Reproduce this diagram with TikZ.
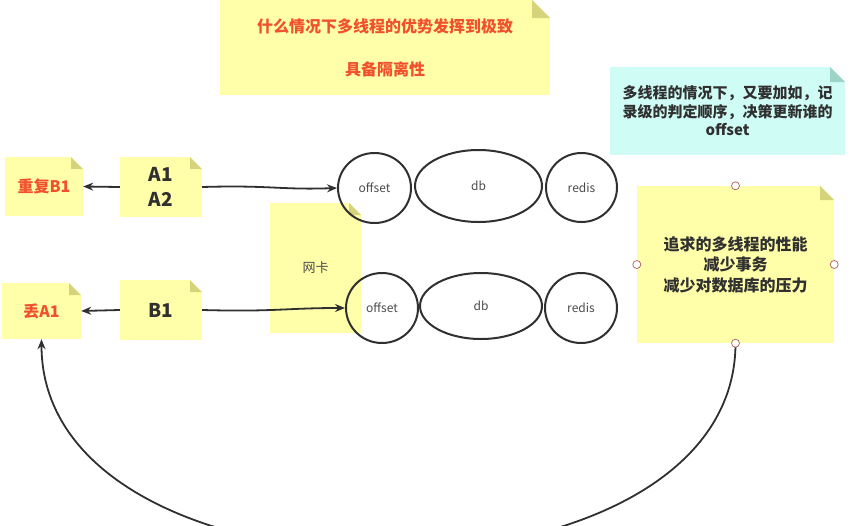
\documentclass[tikz,border=0pt]{standalone}
\usepackage{fontspec}
\setmainfont{Noto Sans CJK SC}
\usetikzlibrary{shapes.geometric, arrows.meta, positioning}

\definecolor{noteyellow}{RGB}{255,255,170}
\definecolor{notefold}{RGB}{214,212,122}
\definecolor{notecyan}{RGB}{208,252,246}
\definecolor{cyanfold}{RGB}{158,212,200}
\definecolor{alertred}{RGB}{240,80,46}
\definecolor{inktext}{RGB}{48,48,48}
\definecolor{softtext}{RGB}{75,75,75}
\definecolor{handlered}{RGB}{170,95,95}

\begin{document}
\begin{tikzpicture}[x=1pt, y=-1pt,
  note/.style n args={3}{rectangle, fill=#1, inner sep=0pt, align=center,
    path picture={
      \fill[white] ([xshift=-#3]path picture bounding box.north east) -- (path picture bounding box.north east) -- ([yshift=-#3]path picture bounding box.north east) -- cycle;
      \fill[#2] ([xshift=-#3]path picture bounding box.north east) -- ([xshift=-#3, yshift=-#3]path picture bounding box.north east) -- ([yshift=-#3]path picture bounding box.north east) -- cycle;}},
  sticky/.style={note={noteyellow}{notefold}{#1}},
  store/.style={ellipse, draw=inktext, line width=2pt, inner sep=0pt, font=\fontsize{12}{14}\selectfont, text=softtext},
  handle/.style={circle, draw=handlered, fill=white, line width=0.7pt, inner sep=0pt, minimum size=8pt},
  line/.style={draw=inktext, line width=1.8pt, -{Stealth[length=10pt, width=8pt]}}]
  \useasboundingbox (0,0) rectangle (864,525);

  % notes at the top
  \node [sticky=18pt, minimum width=330pt, minimum height=95pt, text=alertred, font=\fontsize{16}{19}\selectfont\bfseries] (title) at (385,47.5) {什么情况下多线程的优势发挥到极致\\[24pt]具备隔离性};
  \node [note={notecyan}{cyanfold}{15pt}, minimum width=235pt, minimum height=88pt, text=inktext, font=\fontsize{15}{18.5}\selectfont\bfseries] (hint) at (727.5,111) {多线程的情况下，又要加如，记\\录级的判定顺序，决策更新谁的\\offset};

  % network card behind the stores
  \node [sticky=12pt, minimum width=91pt, minimum height=130pt, text=softtext, font=\fontsize{13}{15}\selectfont] (nic) at (315.5,268) {网卡};

  % messages
  \node [sticky=12pt, minimum width=78pt, minimum height=59pt, text=alertred, font=\fontsize{16}{19}\selectfont\bfseries] (dupB) at (44,186.5) {重复B1};
  \node [sticky=12pt, minimum width=82pt, minimum height=60pt, text=inktext, font=\fontsize{19}{25}\selectfont\bfseries] (msgA) at (161,187) {A1\\A2};
  \node [sticky=12pt, minimum width=79pt, minimum height=56pt, text=alertred, font=\fontsize{16}{19}\selectfont\bfseries] (loseA) at (41.5,311) {丢A1};
  \node [sticky=12pt, minimum width=82pt, minimum height=60pt, text=inktext, font=\fontsize{19}{25}\selectfont\bfseries] (msgB) at (161,310) {B1};

  % consumers
  \node [store, minimum width=73pt, minimum height=70pt] (offA) at (374.5,188) {offset};
  \node [store, minimum width=127pt, minimum height=72pt] (dbA) at (478.5,186) {db};
  \node [store, minimum width=71pt, minimum height=69pt] (redisA) at (581.5,187.5) {redis};
  \node [store, minimum width=72pt, minimum height=70pt] (offB) at (382,308) {offset};
  \node [store, minimum width=122pt, minimum height=66pt] (dbB) at (481,306) {db};
  \node [store, minimum width=72pt, minimum height=70pt] (redisB) at (581,308) {redis};

  % goal note
  \node [sticky=14pt, minimum width=197pt, minimum height=157pt, text=inktext, font=\fontsize{16}{20.5}\selectfont\bfseries] (goal) at (735.5,264.5) {追求的多线程的性能\\减少事务\\减少对数据库的压力};
  \node [handle] at (goal.north) {};
  \node [handle] at (goal.west) {};
  \node [handle] at (goal.east) {};

  \draw [line] (msgA.west) -- (dupB.east);
  \draw [line] (msgB.west) -- (loseA.east);
  \draw [line] (msgA.east) .. controls (270,185) and (280,190) .. (offA.west);
  \draw [line] (msgB.east) .. controls (275,312) and (285,308) .. (offB.west);
  \draw [line] (goal.south) .. controls (735.5,621) and (41.5,621) .. (loseA.south);
  \node [handle] at (goal.south) {};
\end{tikzpicture}
\end{document}
